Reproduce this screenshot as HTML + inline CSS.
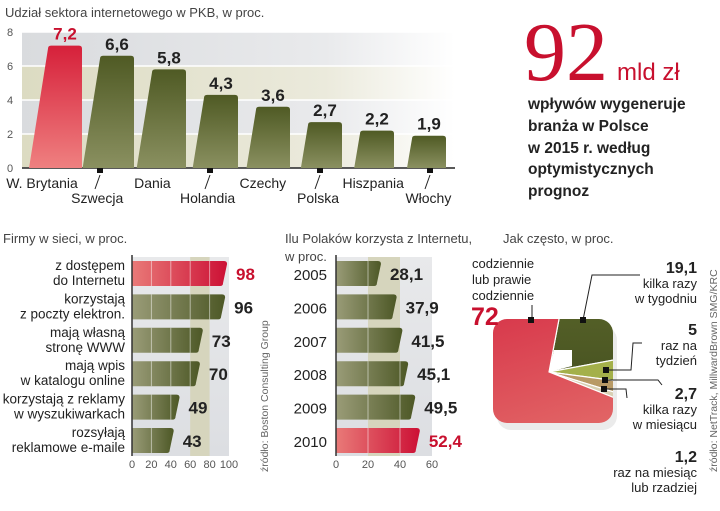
<!DOCTYPE html>
<html><head><meta charset="utf-8"><style>
body{margin:0;background:#fff;width:720px;height:511px;overflow:hidden;font-family:"Liberation Sans",sans-serif;}
svg{display:block}
</style></head><body>
<svg width="720" height="511" viewBox="0 0 720 511">
<defs>
<linearGradient id="fadeG" x1="0" x2="1"><stop offset="0" stop-color="#d9dbde"/><stop offset="0.7" stop-color="#e9eaec"/><stop offset="1" stop-color="#ffffff"/></linearGradient>
<linearGradient id="fadeO" x1="0" x2="1"><stop offset="0" stop-color="#dcdbc2"/><stop offset="0.7" stop-color="#ebeadc"/><stop offset="1" stop-color="#ffffff"/></linearGradient>
<linearGradient id="olV" x1="0" y1="0" x2="0" y2="1"><stop offset="0" stop-color="#4f5a24"/><stop offset="1" stop-color="#8a9060"/></linearGradient>
<linearGradient id="redV" x1="0" y1="0" x2="0" y2="1"><stop offset="0" stop-color="#d6203a"/><stop offset="1" stop-color="#ef8080"/></linearGradient>
<linearGradient id="olH" x1="0" x2="1"><stop offset="0" stop-color="#9a9c78"/><stop offset="1" stop-color="#4d5826"/></linearGradient>
<linearGradient id="redH" x1="0" x2="1"><stop offset="0" stop-color="#e97a78"/><stop offset="1" stop-color="#cc1035"/></linearGradient>
<linearGradient id="colG" x1="0" y1="0" x2="0" y2="1"><stop offset="0" stop-color="#e8e9eb"/><stop offset="1" stop-color="#dcdee2"/></linearGradient>
<linearGradient id="pieRed" x1="0" y1="0" x2="0.3" y2="1"><stop offset="0" stop-color="#d21e3c"/><stop offset="1" stop-color="#e4706c"/></linearGradient>
<linearGradient id="pieOl" x1="0" y1="0" x2="0" y2="1"><stop offset="0" stop-color="#5e6a2c"/><stop offset="1" stop-color="#4a5522"/></linearGradient>
<clipPath id="pieClip"><rect x="493" y="319" width="120" height="104" rx="14"/></clipPath>
</defs>

<text x="5" y="17" font-size="13" fill="#444">Udział sektora internetowego w PKB, w proc.</text>
<g id="top"></g>

<text x="524" y="80" font-family="Liberation Serif,serif" font-size="84" fill="#c8102e">92</text>
<text x="617" y="80" font-size="24" fill="#c8102e">mld zł</text>
<g font-size="15.5" font-weight="bold" fill="#222">
<text x="528" y="109">wpływów wygeneruje</text>
<text x="528" y="131">branża w Polsce</text>
<text x="528" y="153">w 2015 r. według</text>
<text x="528" y="174">optymistycznych</text>
<text x="528" y="196">prognoz</text>
</g>

<text x="3" y="243" font-size="13" fill="#444">Firmy w sieci, w proc.</text>
<g id="firms"></g>
<text transform="translate(268,472) rotate(-90)" font-size="10.5" fill="#666">źródło: Boston Consulting Group</text>

<text x="285" y="243" font-size="13" fill="#444">Ilu Polaków korzysta z Internetu,</text>
<text x="285" y="261" font-size="13" fill="#444">w proc.</text>
<g id="users"></g>

<text x="503" y="243" font-size="13" fill="#444">Jak często, w proc.</text>
<rect x="497" y="326" width="120" height="104" rx="14" fill="#ddd" opacity="0.6"/>
<g id="pie" clip-path="url(#pieClip)"></g>
<g font-size="13" fill="#222">
<text x="472" y="268">codziennie</text><text x="472" y="284">lub prawie</text><text x="472" y="300">codziennie</text>
<text x="471" y="325" font-size="25" font-weight="bold" fill="#c8102e">72</text>
<g text-anchor="end">
<text x="697" y="273" font-weight="bold" font-size="16">19,1</text><text x="697" y="288">kilka razy</text><text x="697" y="303">w tygodniu</text>
<text x="697" y="335" font-weight="bold" font-size="16">5</text><text x="697" y="350">raz na</text><text x="697" y="365">tydzień</text>
<text x="697" y="399" font-weight="bold" font-size="16">2,7</text><text x="697" y="414">kilka razy</text><text x="697" y="429">w miesiącu</text>
<text x="697" y="462" font-weight="bold" font-size="16">1,2</text><text x="697" y="477">raz na miesiąc</text><text x="697" y="492">lub rzadziej</text>
</g></g>
<g stroke="#222" stroke-width="1" fill="none">
<polyline points="532,320 532,305"/>
<polyline points="583,320 592,275 640,275"/>
<polyline points="606,370 631,370 633,343 642,343"/>
<polyline points="604,380 658,380 662,385"/>
<polyline points="603,389 626,389 627,398"/>
</g>
<g fill="#111">
<rect x="528" y="317" width="6" height="6"/><rect x="580" y="317" width="6" height="6"/>
<rect x="603" y="367" width="6" height="6"/><rect x="602" y="377" width="6" height="6"/><rect x="601" y="386" width="6" height="6"/>
</g>
<text transform="translate(717,472) rotate(-90)" font-size="10.5" fill="#666">źródło: NetTrack, MillwardBrown SMG/KRC</text>
</svg>
<script>
const NS='http://www.w3.org/2000/svg';
function mk(p,t,a){const e=document.createElementNS(NS,t);for(const k in a)e.setAttribute(k,a[k]);p.appendChild(e);return e;}

const gdpCountries=['W. Brytania','Szwecja','Dania','Holandia','Czechy','Polska','Hiszpania','Włochy'];
const gdpValues=[7.2,6.6,5.8,4.3,3.6,2.7,2.2,1.9];
const gdpTicks=[0,2,4,6,8];
const firmLabels=[['z dostępem','do Internetu'],['korzystają','z poczty elektron.'],['mają własną','stronę WWW'],['mają wpis','w katalogu online'],['korzystają z reklamy','w wyszukiwarkach'],['rozsyłają','reklamowe e-maile']];
const firmValues=[98,96,73,70,49,43];
const firmTicks=[0,20,40,60,80,100];
const userYears=['2005','2006','2007','2008','2009','2010'];
const userValues=[28.1,37.9,41.5,45.1,49.5,52.4];
const userTicks=[0,20,40,60];
const pieLabels=['kilka razy w tygodniu','raz na tydzień','kilka razy w miesiącu','raz na miesiąc lub rzadziej','codziennie lub prawie codziennie'];
const pieValues=[19.1,5,2.7,1.2,72];

(function(){
 const g=document.getElementById('top');
 const y=v=>168-v*17, x0=22, x1=455;
 for(let i=0;i<4;i++){
  const r=mk(g,'rect',{x:x0,y:y(gdpTicks[i+1]),width:x1-x0,height:34,fill:(i%2===0)?'url(#fadeO)':'url(#fadeG)'});
  
  
 }
 gdpTicks.forEach(t=>{
  const l=mk(g,'line',{x1:x0,x2:x1,y1:y(t),y2:y(t),stroke:'#fff','stroke-width':1.5});
  
  
  const tx=mk(g,'text',{x:10,y:y(t)+4,'font-size':11,fill:'#555','text-anchor':'middle'});tx.textContent=t;
  
  
 });
 mk(g,'line',{x1:x0,x2:x1,y1:168,y2:168,stroke:'#222','stroke-width':1.5});
 gdpValues.forEach((v,i)=>{
  const r=82+52*i, yt=y(v), h=168-yt, lt=r-34, lb=lt-h*0.155;
  const p=mk(g,'path',{d:`M${lb},168 L${lt},${yt+3} Q${lt},${yt} ${lt+3},${yt} L${r-3},${yt} Q${r},${yt} ${r},${yt+3} L${r},168 Z`,fill:i===0?'url(#redV)':'url(#olV)'});
  
  
  const vt=mk(g,'text',{x:r-17,y:yt-6,'font-size':17,'font-weight':'bold','text-anchor':'middle',fill:i===0?'#c8102e':'#222'});
  vt.textContent=String(v).replace('.',',');
  
  
  const low=i%2===1;
  const ct=mk(g,'text',{x:42+55.2*i,y:low?203:188,'font-size':14,fill:'#222','text-anchor':'middle'});
  ct.textContent=gdpCountries[i];
  
  
  if(low){const mx=45+55*i;mk(g,'rect',{x:mx-3,y:168,width:6,height:5,fill:'#111'});mk(g,'line',{x1:mx,y1:175,x2:mx-5,y2:189,stroke:'#222'});}
 });
})();

function hbars(gid,axisX,scale,vals,ticks,maxTick,colTickFrom,labelFn,valFmt,redIdx){
 const g=document.getElementById(gid);
 const x=v=>axisX+v*scale, top=257, bot=456;
 mk(g,'rect',{x:axisX,y:top,width:x(maxTick)-axisX,height:bot-top,fill:'url(#colG)'});
 mk(g,'rect',{x:x(colTickFrom),y:top,width:x(colTickFrom+20)-x(colTickFrom),height:bot-top,fill:'#d6d5bd'});
 vals.forEach((v,i)=>{
  const y0=261+33.4*i, h=25;
  const p=mk(g,'path',{d:`M${axisX},${y0} L${x(v)-3},${y0} Q${x(v)},${y0} ${x(v)},${y0+3} L${x(v)-4},${y0+h-3} Q${x(v)-4},${y0+h} ${x(v)-7},${y0+h} L${axisX},${y0+h} Z`,fill:i===redIdx?'url(#redH)':'url(#olH)'});
  
  
  ticks.slice(1).forEach(t=>{if(x(t)<x(v)-4)mk(g,'line',{x1:x(t),x2:x(t),y1:y0,y2:y0+h,stroke:'#fff','stroke-opacity':0.5});});
  const vt=mk(g,'text',{x:x(v)+9,y:y0+19,'font-size':17,'font-weight':'bold',fill:i===redIdx?'#c8102e':'#222'});
  vt.textContent=valFmt(v);
  
  
  labelFn(g,i,y0);
 });
 mk(g,'line',{x1:axisX,x2:axisX,y1:255,y2:456,stroke:'#333','stroke-width':1.5});
 ticks.forEach(t=>{const tx=mk(g,'text',{x:x(t),y:468,'font-size':11,fill:'#555','text-anchor':'middle'});tx.textContent=t;
  
  });
}
hbars('firms',132,0.97,firmValues,firmTicks,100,60,(g,i,y0)=>{
 firmLabels[i].forEach((s,k)=>{const t=mk(g,'text',{x:125,y:y0+9+k*15,'font-size':13.5,fill:'#222','text-anchor':'end'});t.textContent=s;
  
  });
},v=>String(v),0);
hbars('users',336,1.6,userValues,userTicks,60,20,(g,i,y0)=>{
 const t=mk(g,'text',{x:327,y:y0+19,'font-size':15,fill:'#222','text-anchor':'end'});t.textContent=userYears[i];
 
 
},v=>v.toFixed(1).replace('.',','),5);

(function(){
 const g=document.getElementById('pie');
 const cx=549,cy=372,R=120;
 const cols=['url(#pieOl)','#a4b04a','#b89a66','#d8d0b4','url(#pieRed)'];
 const tot=pieValues.reduce((a,b)=>a+b,0);
 let a=10.7;
 pieValues.forEach((v,i)=>{
  const s=a, e=a+v/tot*360; a=e;
  const pt=d=>[cx+R*Math.sin(d*Math.PI/180),cy-R*Math.cos(d*Math.PI/180)];
  const [x1,y1]=pt(s),[x2,y2]=pt(e);
  const p=mk(g,'path',{d:`M${cx},${cy} L${x1},${y1} A${R},${R} 0 ${e-s>180?1:0} 1 ${x2},${y2} Z`,fill:cols[i],stroke:'#fff','stroke-width':1.2});
  
  
 });
 const w=mk(g,'path',{d:`M${cx},${cy} L554,350 L572,350 L572,366 Z`,fill:'#fff'});
 
 
})();
</script>
</body></html>
